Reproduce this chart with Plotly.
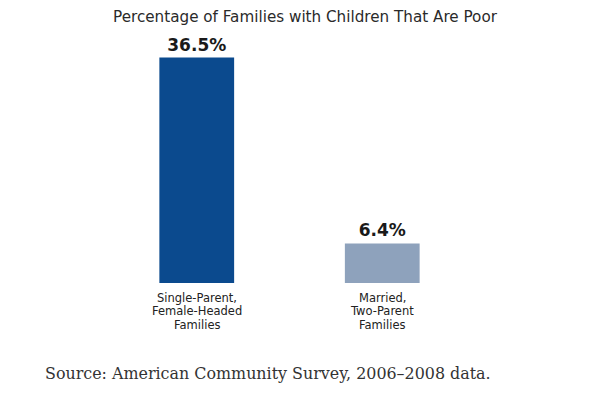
import plotly.graph_objects as go

categories = ["Single-Parent,<br>Female-Headed<br>Families", "Married,<br>Two-Parent<br>Families"]
values = [36.5, 6.4]
value_labels = ["36.5%", "6.4%"]
colors = ["#0b4a8e", "#8ea2bc"]
title_text = "Percentage of Families with Children That Are Poor"
source_text = "Source: American Community Survey, 2006\u20132008 data."

xs = list(range(len(categories)))

fig = go.Figure(go.Bar(
    x=xs, y=values, width=0.403,
    marker=dict(color=colors, line=dict(width=0)),
    text=value_labels, textposition="outside",
    textfont=dict(family="DejaVu Sans", size=17, color="#1a1a1a", weight="bold"),
    cliponaxis=False,
))

annotations = []
line_shifts = [-14.5, -28, -41.5]
for xi, cat in zip(xs, categories):
    for li, line in enumerate(cat.split("<br>")):
        annotations.append(dict(
            text=line, xref="x", yref="paper", x=xi, y=0,
            xanchor="center", yanchor="middle", yshift=line_shifts[li],
            showarrow=False,
            font=dict(family="DejaVu Sans", size=11.5, color="#222")))

annotations.append(dict(
    text=source_text, xref="paper", yref="paper", x=-0.165, y=-0.365,
    xanchor="left", yanchor="middle", showarrow=False,
    font=dict(family="DejaVu Serif", size=15.9, color="#333")))

fig.update_layout(
    width=600, height=400,
    margin=dict(l=95.5, r=132.5, t=28.4, b=125),
    paper_bgcolor="white", plot_bgcolor="white",
    showlegend=False,
    title=dict(text=title_text,
               x=0.495, xanchor="center", y=0.9775, yanchor="middle",
               font=dict(family="DejaVu Sans", size=15.2, color="#2a2a2a")),
    xaxis=dict(range=[-0.5, 1.5], tickvals=xs, showticklabels=False,
               showgrid=False, zeroline=False, showline=False, ticks=""),
    yaxis=dict(range=[0, 40], visible=False, showgrid=False, zeroline=False),
    annotations=annotations,
)

fig.write_html("out.html")
